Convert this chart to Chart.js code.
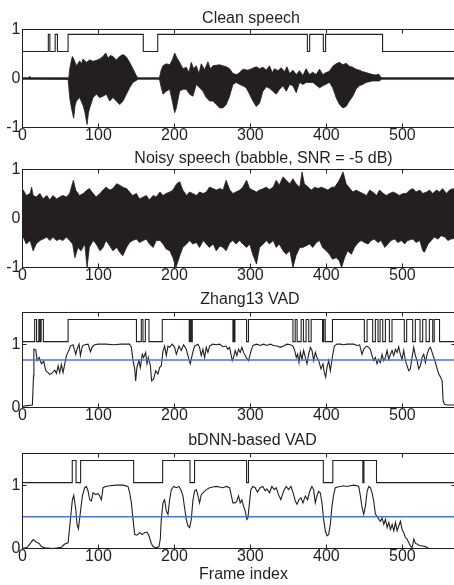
<!DOCTYPE html>
<html><head><meta charset="utf-8">
<script src="https://cdn.jsdelivr.net/npm/chart.js@4.4.1/dist/chart.umd.min.js"></script>
<style>
html,body{margin:0;padding:0;background:#fff;overflow:hidden;width:454px;height:585px;position:relative;}
canvas{position:absolute;left:0;top:0;}
</style></head><body>
<canvas id="c1" width="470" height="585"></canvas>
<canvas id="c2" width="470" height="585"></canvas>
<canvas id="c3" width="470" height="585"></canvas>
<canvas id="c4" width="470" height="585"></canvas>
<script>
// ---------- data ----------
const xTicks = [0, 100, 200, 300, 400, 500];
const xMax = 570;
const waveYTicks = [-1, 0, 1];
const vadYTicks = [0, 1];

const titles = ["Clean speech", "Noisy speech (babble, SNR = -5 dB)", "Zhang13 VAD", "bDNN-based VAD"];
const xLabel = "Frame index";

// clean speech envelope [frame, value]
const cleanUpper = [[0,0.015],[8,0.015],[9.5,0.05],[11,0.015],[61,0.015],[62.2,0.2],[64.4,0.38],[65.7,0.45],[67.4,0.40],[71,0.26],[75.3,0.36],[77.6,0.30],[79.7,0.40],[84.1,0.33],[88.5,0.38],[92.9,0.35],[97.3,0.37],[101.6,0.40],[106,0.45],[109.5,0.52],[112.6,0.42],[115.7,0.47],[119.1,0.45],[123.5,0.38],[127.9,0.45],[132.3,0.49],[136.7,0.44],[141,0.33],[145.4,0.2],[149.8,0.06],[152,0.015],[180,0.015],[180.5,0.03],[182.7,0.18],[184.9,0.26],[189.3,0.30],[193.7,0.28],[197.2,0.38],[200.3,0.52],[203.4,0.42],[206.8,0.33],[211.2,0.20],[215.6,0.23],[219.1,0.12],[222.2,0.33],[225.3,0.20],[228.8,0.26],[232.3,0.10],[235.3,0.30],[239.7,0.18],[244.1,0.34],[247.2,0.20],[250.7,0.26],[255.1,0.27],[259.5,0.28],[263.8,0.26],[268.2,0.24],[272.6,0.20],[277,0.10],[282.3,0.08],[285.8,0.12],[290.2,0.19],[296.7,0.17],[303.3,0.21],[307.7,0.24],[312.1,0.20],[316.5,0.23],[320.9,0.17],[325.2,0.26],[328.8,0.12],[331.8,0.20],[336.2,0.16],[340.6,0.22],[345,0.14],[348.1,0.24],[351.6,0.10],[356,0.17],[360.3,0.08],[364.7,0.16],[369.1,0.06],[373.3,0.20],[377.8,0.08],[382.1,0.13],[386.5,0.08],[391,0.19],[395.3,0.08],[399.7,0.12],[404.1,0.15],[408.4,0.25],[412.8,0.30],[417.2,0.33],[421.6,0.28],[426,0.31],[430.3,0.25],[434.8,0.23],[439.1,0.19],[443.5,0.17],[447.9,0.14],[452.3,0.12],[456.6,0.10],[461,0.08],[465.4,0.07],[468.9,0.09],[472,0.02],[473,0.015],[570,0.015]];
const cleanLower = [[0,-0.015],[60,-0.02],[62.2,-0.4],[64.4,-0.6],[67.4,-0.81],[69.2,-0.55],[71,-0.46],[75.3,-0.39],[79.7,-0.55],[81.9,-0.67],[85,-0.94],[86.8,-0.7],[88.5,-0.6],[92.9,-0.39],[97.3,-0.32],[101.6,-0.39],[106,-0.36],[110.4,-0.32],[114.8,-0.46],[119.1,-0.39],[123.5,-0.46],[127.9,-0.53],[130,-0.5],[132.3,-0.46],[136.7,-0.32],[141,-0.19],[145.4,-0.08],[149.8,-0.04],[152,-0.015],[180,-0.015],[180.5,-0.03],[182.7,-0.19],[184.9,-0.32],[189.3,-0.26],[193.7,-0.22],[197.2,-0.46],[200.3,-0.70],[202.5,-0.6],[206.8,-0.26],[211.2,-0.22],[215.6,-0.22],[220,-0.32],[224.4,-0.36],[228.8,-0.12],[233.1,-0.19],[237.5,-0.26],[241.9,-0.39],[246.3,-0.46],[250.7,-0.46],[255.1,-0.53],[259.5,-0.6],[263.8,-0.6],[268.2,-0.53],[272.6,-0.36],[277,-0.12],[281.4,-0.08],[285.8,-0.12],[290.2,-0.15],[294.5,-0.19],[298.9,-0.32],[303.3,-0.46],[307.7,-0.57],[312.1,-0.50],[316.5,-0.26],[320.9,-0.17],[325.2,-0.2],[329.6,-0.26],[334,-0.32],[338.4,-0.22],[342.8,-0.15],[347.2,-0.26],[351.6,-0.12],[356,-0.15],[360.3,-0.29],[364.7,-0.08],[369.1,-0.12],[373.5,-0.08],[382.3,-0.08],[391,-0.19],[395.3,-0.15],[404.1,-0.08],[408.4,-0.19],[412.8,-0.39],[417.2,-0.53],[421.6,-0.6],[426,-0.57],[430.3,-0.46],[434.8,-0.36],[439.1,-0.22],[443.5,-0.15],[447.9,-0.12],[452.3,-0.08],[461,-0.05],[469.9,-0.05],[472,-0.02],[473,-0.015],[570,-0.015]];
const cleanVadFrames = [0,34,36,43,46,60,159,178,375,378,396,399,474,570];
const cleanVadStates = [0,1,0,1,0,1,0,1,0,1,0,1,0,0];
const cleanVadLevels = [0.55, 0.9];

// noisy speech envelope [frame, value]
const noisyUpper = [[0,0.58],[1,0.58],[5,0.47],[10,0.51],[12,0.64],[14,0.47],[18,0.44],[23,0.51],[27,0.40],[32,0.47],[36,0.38],[40,0.47],[45,0.40],[49,0.44],[53,0.47],[58,0.44],[62,0.51],[67,0.78],[70,0.58],[75,0.47],[80,0.51],[85,0.58],[88,0.61],[93,0.51],[97,0.44],[102,0.51],[106,0.58],[110,0.64],[115,0.58],[119,0.61],[124,0.71],[128,0.68],[132,0.64],[137,0.61],[141,0.54],[145,0.47],[150,0.51],[154,0.40],[159,0.44],[163,0.47],[167,0.38],[172,0.47],[176,0.44],[181,0.54],[185,0.47],[189,0.51],[194,0.54],[198,0.58],[203,0.71],[207,0.75],[211,0.58],[216,0.47],[220,0.54],[224,0.51],[229,0.47],[233,0.54],[238,0.51],[242,0.54],[246,0.64],[251,0.61],[255,0.58],[260,0.61],[264,0.58],[268,0.78],[273,0.58],[277,0.51],[281,0.54],[286,0.58],[290,0.64],[295,0.78],[299,0.61],[303,0.58],[308,0.54],[312,0.58],[317,0.61],[321,0.64],[325,0.59],[330,0.64],[334,0.78],[338,0.68],[343,0.85],[347,0.78],[352,0.71],[356,0.81],[360,0.71],[365,0.64],[368,0.95],[371,0.71],[376,0.64],[380,0.58],[385,0.64],[389,0.61],[393,0.64],[398,0.61],[402,0.58],[407,0.64],[411,0.64],[417,0.78],[422,0.95],[426,0.71],[431,0.61],[435,0.54],[439,0.58],[444,0.54],[448,0.51],[453,0.47],[457,0.58],[461,0.54],[466,0.47],[470,0.58],[475,0.51],[479,0.47],[483,0.51],[488,0.54],[492,0.51],[496,0.47],[501,0.51],[505,0.51],[510,0.58],[514,0.61],[518,0.54],[523,0.58],[527,0.51],[532,0.54],[536,0.58],[540,0.51],[545,0.58],[549,0.54],[553,0.61],[558,0.51],[562,0.58],[567,0.61],[570,0.55]];
const noisyLower = [[0,-0.38],[1,-0.38],[5,-0.52],[10,-0.45],[14,-0.66],[18,-0.52],[23,-0.45],[27,-0.42],[32,-0.38],[36,-0.45],[40,-0.38],[45,-0.45],[49,-0.42],[53,-0.45],[58,-0.38],[62,-0.45],[66,-0.52],[69,-0.80],[73,-0.59],[77,-0.66],[82,-0.52],[85,-1.0],[88,-0.59],[93,-0.45],[97,-0.52],[102,-0.66],[106,-0.59],[110,-0.45],[115,-0.56],[119,-0.66],[124,-0.59],[128,-0.69],[132,-0.76],[137,-0.59],[141,-0.49],[145,-0.45],[150,-0.42],[154,-0.49],[159,-0.45],[163,-0.42],[167,-0.52],[172,-0.59],[176,-0.45],[181,-0.45],[185,-0.52],[189,-0.62],[194,-0.66],[198,-0.80],[202,-1.0],[207,-0.76],[211,-0.59],[216,-0.52],[220,-0.45],[224,-0.52],[229,-0.49],[233,-0.59],[238,-0.45],[242,-0.52],[246,-0.59],[251,-0.52],[255,-0.66],[260,-0.56],[264,-0.59],[268,-0.66],[273,-0.49],[277,-0.45],[281,-0.52],[286,-0.45],[290,-0.52],[295,-0.59],[299,-0.52],[303,-0.73],[308,-0.93],[312,-0.59],[317,-0.52],[321,-0.45],[325,-0.52],[330,-0.45],[334,-0.59],[338,-0.52],[343,-0.66],[347,-0.73],[352,-0.66],[356,-1.0],[360,-0.76],[365,-0.59],[369,-0.59],[373,-0.56],[378,-0.52],[382,-0.59],[387,-0.49],[391,-0.45],[395,-0.59],[400,-0.66],[404,-0.73],[408,-0.83],[413,-0.80],[417,-0.86],[420,-1.0],[424,-0.80],[428,-0.66],[433,-0.73],[437,-0.59],[442,-0.49],[446,-0.45],[450,-0.49],[455,-0.52],[459,-0.45],[463,-0.42],[468,-0.49],[472,-0.45],[477,-0.59],[481,-0.52],[485,-0.45],[490,-0.42],[494,-0.49],[499,-0.45],[503,-0.52],[507,-0.45],[514,-0.42],[518,-0.49],[523,-0.45],[527,-0.66],[529,-0.69],[534,-0.52],[538,-0.45],[542,-0.38],[547,-0.42],[551,-0.35],[556,-0.38],[560,-0.45],[564,-0.42],[570,-0.40]];

// Zhang13 VAD
const zhangProb = [[0,0.02],[6,0.03],[13,0.04],[14.5,0.5],[15,0.92],[17.5,0.91],[19.3,0.74],[21.9,0.79],[24.9,0.69],[28,0.73],[30.6,0.58],[33.7,0.55],[35.9,0.52],[39.4,0.55],[42.5,0.59],[44.7,0.54],[46.9,0.66],[49,0.55],[51.2,0.68],[53.4,0.55],[55.6,0.69],[57.8,0.82],[61.3,0.91],[63.1,0.97],[66.6,0.99],[70.1,0.84],[71.8,0.92],[74.5,1.0],[76.2,0.82],[78.8,0.97],[81.9,0.99],[86.3,1.0],[89.4,0.88],[92,0.96],[95.1,0.99],[99.5,1.0],[110,1.0],[120,0.99],[130,1.0],[141,1.0],[143.3,0.95],[145.5,0.74],[147.7,0.61],[149,0.42],[150.7,0.64],[153.3,0.74],[155.1,0.63],[157.7,0.84],[159.5,0.79],[162.1,0.87],[163.9,0.69],[165.6,0.79],[168.3,0.66],[170,0.42],[172.6,0.45],[175.3,0.58],[178.3,0.53],[180.5,0.63],[182.7,0.66],[184.9,0.89],[187.1,0.97],[189.3,0.82],[191.5,0.97],[193.7,0.95],[197.2,1.0],[200.3,0.95],[202.5,0.84],[206,0.97],[209,0.9],[212.1,0.99],[215.6,0.92],[219.1,0.76],[220.9,0.69],[223.5,0.84],[226.5,0.97],[230.9,1.0],[233.1,0.95],[235.3,0.82],[237.5,0.92],[239.7,0.79],[241.9,0.95],[244.1,0.87],[246.3,0.97],[250.6,1.0],[255,0.99],[259.4,1.0],[263.8,0.96],[268.2,0.97],[270.4,0.92],[272.6,0.95],[276.1,0.74],[277.8,0.79],[280,0.9],[282.2,0.82],[284.4,0.92],[286.6,0.87],[288.8,0.95],[291,0.87],[294.5,0.79],[297.6,0.74],[300.7,0.89],[303.4,0.98],[308.6,1.0],[313,0.98],[317.4,1.0],[321.8,0.98],[326.2,1.0],[330.6,0.98],[335,0.97],[339.4,0.95],[343.8,0.97],[348.2,1.0],[352.6,0.99],[356.1,0.97],[358.3,0.9],[360.4,0.79],[362.2,0.84],[364,0.71],[365.8,0.87],[367.9,0.76],[370.1,0.9],[372.3,0.79],[374.5,0.69],[376.7,0.84],[378.9,0.95],[381.1,0.9],[383.3,0.74],[385.5,0.87],[387.7,0.79],[389.9,0.74],[392.9,0.61],[395.6,0.69],[397.3,0.55],[399.1,0.48],[400.8,0.63],[403,0.74],[405.2,0.58],[407.8,0.79],[410.5,0.97],[414,1.0],[418.4,1.0],[422.8,0.99],[427.2,1.0],[431.6,1.0],[436,1.0],[440.3,0.98],[443.8,0.99],[446.9,0.84],[449.1,0.92],[451.3,0.95],[453.5,0.97],[455.7,0.95],[457.9,0.92],[460.1,0.82],[462.3,0.74],[464.5,0.79],[466.7,0.69],[468.9,0.76],[471.1,0.71],[473.3,0.84],[475.5,0.74],[477.7,0.79],[479.9,0.9],[482.1,0.76],[484.3,0.84],[486.5,0.9],[488.7,0.82],[490.9,0.92],[493.1,0.87],[495.2,0.96],[497.4,0.84],[499.6,0.76],[501.8,0.9],[504,0.74],[506.2,0.66],[508.4,0.58],[510.6,0.61],[512.8,0.79],[515,0.95],[517.2,0.82],[519.4,0.74],[521.6,0.61],[523.8,0.66],[526,0.79],[528.2,0.84],[530.4,0.71],[532.6,0.84],[534.8,0.92],[537,0.95],[539.2,0.87],[541.4,0.79],[543.6,0.71],[545.8,0.61],[548,0.53],[550.2,0.48],[552.4,0.42],[553.7,0.11],[555.5,0.05],[559,0.04],[570,0.04]];
const zhangVadFrames = [0,16,18.5,21.5,23,24.5,27.5,60,150,156.4,158.6,161.7,166.5,184,219.5,220.5,222,223.5,277,277.8,278.8,279.6,295,297.5,356,359,361.5,366.8,369.8,373.3,376.8,380,395,396.5,398.5,408,450,453.6,461,464.5,468,470.7,474.2,477.7,483,486.4,502.6,505.7,513.6,517.1,523.3,526.8,531.2,535.6,540,542,549,570];
const zhangVadStates = [0,1,0,1,0,1,0,1,0,1,0,1,0,1,0,1,0,1,0,1,0,1,0,1,0,1,0,1,0,1,0,1,0,1,0,1,0,1,0,1,0,1,0,1,0,1,0,1,0,1,0,1,0,1,0,1,0,0];
const zhangThreshold = 0.75;

// bDNN VAD
const bdnnProb = [[0,0.0],[6.1,0.02],[9.6,0.07],[14,0.14],[18.4,0.1],[21.9,0.08],[24.9,0.03],[29.3,0.01],[40.3,0.0],[51.2,0.02],[55.6,0.07],[60,0.09],[63.1,0.46],[65.7,0.77],[67.5,0.84],[70.1,0.62],[71.8,0.38],[73.6,0.31],[76.2,0.57],[78.8,0.83],[81.9,0.96],[84.1,0.98],[86.3,0.91],[88.5,0.77],[90.7,0.75],[92.9,0.88],[96.4,0.85],[99.5,0.87],[101.6,0.83],[103.8,0.77],[106,0.96],[109.5,0.98],[114.8,0.99],[123.5,1.0],[132.3,1.0],[138.9,0.98],[141.1,0.88],[143.3,0.72],[145.5,0.46],[147.7,0.22],[150.7,0.21],[154.2,0.25],[157.7,0.22],[160.8,0.25],[163.9,0.26],[166.5,0.2],[169.6,0.08],[171.8,0.03],[176.1,0.01],[179.7,0.03],[181.4,0.15],[182.7,0.46],[184.9,0.72],[187.1,0.77],[189.3,0.59],[191.5,0.54],[193.7,0.77],[195.9,0.93],[199,0.98],[202.5,0.96],[206,0.98],[209.1,0.91],[211.2,0.83],[213.4,0.64],[215.6,0.46],[217.8,0.36],[220,0.33],[222.2,0.46],[224.4,0.77],[226.6,0.91],[228.8,0.93],[231,0.83],[233.1,0.72],[235.3,0.85],[237.5,0.88],[241.9,0.93],[246.3,0.96],[250.6,0.97],[255,0.98],[259.4,0.97],[263.8,0.96],[268.2,0.98],[272.6,0.96],[277,0.72],[280,0.72],[282.2,0.75],[284.4,0.83],[286.6,0.72],[288.8,0.77],[291,0.67],[293.2,0.59],[295.4,0.46],[296.7,0.48],[298.8,0.72],[300.6,0.93],[303.2,0.98],[306.3,0.96],[309.3,0.89],[312.9,0.96],[316.4,0.98],[319.5,0.91],[321.7,0.94],[325.2,0.88],[328.3,0.98],[331.4,0.93],[334,0.96],[337.1,0.85],[340.1,0.77],[343.7,0.91],[347.2,0.98],[350.3,0.93],[353.4,0.98],[356.9,0.85],[359.1,0.75],[361.3,0.7],[363.9,0.77],[366.6,0.8],[369.2,0.72],[372.3,0.83],[375.3,0.77],[378,0.9],[381,0.98],[383.2,0.93],[385.4,0.72],[387.6,0.83],[389.8,0.9],[392,0.88],[394.2,0.72],[396.4,0.46],[398.6,0.28],[400.8,0.2],[403,0.22],[405.2,0.38],[407.4,0.67],[409.6,0.85],[411.8,0.96],[414.9,0.97],[418.4,0.98],[422.8,0.99],[427.2,0.98],[431.6,0.99],[436,1.0],[440.4,0.99],[442.6,0.98],[444.8,0.83],[447,0.65],[449.2,0.54],[451.4,0.67],[453.6,0.9],[455.8,0.98],[458,0.96],[460.2,0.88],[462.4,0.75],[464.6,0.54],[466.8,0.51],[469,0.46],[471.2,0.43],[473.4,0.48],[475.6,0.38],[477.8,0.46],[480,0.33],[482.2,0.41],[484.4,0.3],[486.6,0.38],[488.8,0.28],[491,0.41],[493.2,0.28],[495.4,0.36],[497.5,0.43],[499.7,0.3],[501.9,0.25],[504.1,0.17],[506.3,0.15],[508.5,0.09],[510.7,0.04],[512.9,0.01],[515.1,0.15],[517.3,0.08],[519.5,0.07],[521.7,0.05],[526.1,0.04],[530.5,0.03],[534.9,0.0],[570,0.0]];
const bdnnVadFrames = [0,65.5,70.5,76.5,146.3,184.5,220.5,226.5,295,297.5,396,408.5,448,449.5,466,570];
const bdnnVadStates = [0,1,0,1,0,1,0,1,0,1,0,1,0,1,0,0];
const bdnnThreshold = 0.5;
const vadLevels = [1.04, 1.39];

// ---------- styling / layout ----------
const INK = '#231f20';
const BLUE = '#5373c4';
const FAMILY = '"Liberation Sans", Arial, Helvetica, sans-serif';
const CW = 470;               // canvas width (clipped by the 454px window)
const PLOT_LEFT = 22.5, PLOT_RIGHT = 455.5;

const toXY = arr => arr.map(p => ({x: p[0], y: p[1]}));
const stepXY = (frames, states, levels) => frames.map((f, i) => ({x: f, y: levels[states[i]]}));
const hline = (v) => [{x: 0, y: v}, {x: xMax, y: v}];

const framePlugin = {
  id: 'frame',
  afterDatasetsDraw(chart, args, opts) {
    const {ctx, chartArea: a, scales} = chart;
    ctx.save();
    ctx.strokeStyle = INK; ctx.lineWidth = 1;
    ctx.strokeRect(a.left, a.top, a.right - a.left, a.bottom - a.top);
    const L = 4;
    ctx.beginPath();
    scales.x.ticks.forEach(t => {
      const x = Math.round(scales.x.getPixelForValue(t.value) - 0.5) + 0.5;
      ctx.moveTo(x, a.top); ctx.lineTo(x, a.top + L);
      ctx.moveTo(x, a.bottom); ctx.lineTo(x, a.bottom - L);
    });
    scales.y.ticks.forEach(t => {
      const y = Math.round(scales.y.getPixelForValue(t.value) - 0.5) + 0.5;
      ctx.moveTo(a.left, y); ctx.lineTo(a.left + L, y);
      ctx.moveTo(a.right, y); ctx.lineTo(a.right - L, y);
    });
    ctx.stroke();
    ctx.fillStyle = INK;
    ctx.font = '16px ' + FAMILY;
    ctx.textAlign = 'center';
    ctx.textBaseline = 'alphabetic';
    (opts.labels || []).forEach(l => ctx.fillText(l.text, l.x, l.y));
    ctx.restore();
  }
};

function makeChart(id, o) {
  return new Chart(document.getElementById(id), {
    type: 'line',
    data: {datasets: o.datasets},
    plugins: [framePlugin],
    options: {
      responsive: false, animation: false, devicePixelRatio: 1,
      layout: {padding: {top: o.top, left: 0, right: CW - PLOT_RIGHT, bottom: 0}},
      elements: {point: {radius: 0}, line: {tension: 0}},
      plugins: {legend: {display: false}, tooltip: {enabled: false}, frame: {labels: o.labels}},
      scales: {
        x: {
          type: 'linear', min: 0, max: xMax,
          afterBuildTicks: s => { s.ticks = xTicks.map(v => ({value: v})); },
          afterFit: s => { s.height = 585 - o.bottom; },
          grid: {display: false, drawTicks: false}, border: {display: false},
          ticks: {color: INK, font: {family: FAMILY, size: 16}, padding: -2, maxRotation: 0, autoSkip: false,
                  callback: v => String(v)}
        },
        y: {
          type: 'linear', min: o.yMin, max: o.yMax,
          afterBuildTicks: s => { s.ticks = o.yTicks.map(v => ({value: v})); },
          afterFit: s => { s.width = PLOT_LEFT; },
          grid: {display: false, drawTicks: false}, border: {display: false},
          ticks: {color: INK, font: {family: FAMILY, size: 16}, padding: 2, autoSkip: false,
                  callback: v => String(v)}
        }
      }
    }
  });
}

const lineDS = (data, extra) => Object.assign({data, borderColor: INK, borderWidth: 1.1, pointRadius: 0, fill: false}, extra || {});

// 1. clean speech
makeChart('c1', {
  top: 29.5, bottom: 127.5, yMin: -1, yMax: 1, yTicks: waveYTicks,
  labels: [{text: titles[0], x: 251, y: 22.5}],
  datasets: [
    lineDS(stepXY(cleanVadFrames, cleanVadStates, cleanVadLevels), {stepped: 'before'}),
    lineDS(toXY(cleanUpper), {fill: '+1', backgroundColor: INK, borderWidth: 0.8}),
    lineDS(toXY(cleanLower), {borderWidth: 0.8})
  ]
});

// 2. noisy speech
makeChart('c2', {
  top: 169.5, bottom: 267.5, yMin: -1, yMax: 1, yTicks: waveYTicks,
  labels: [{text: titles[1], x: 263.5, y: 162.5}],
  datasets: [
    lineDS(toXY(noisyUpper), {fill: '+1', backgroundColor: INK, borderWidth: 0.8}),
    lineDS(toXY(noisyLower), {borderWidth: 0.8})
  ]
});

// 3. Zhang13 VAD
makeChart('c3', {
  top: 312.5, bottom: 407.5, yMin: 0, yMax: 1.5, yTicks: vadYTicks,
  labels: [{text: titles[2], x: 250, y: 304}],
  datasets: [
    lineDS(hline(zhangThreshold), {borderColor: BLUE, borderWidth: 1.5}),
    lineDS(stepXY(zhangVadFrames, zhangVadStates, vadLevels), {stepped: 'before'}),
    lineDS(toXY(zhangProb))
  ]
});

// 4. bDNN VAD
makeChart('c4', {
  top: 453.5, bottom: 548.5, yMin: 0, yMax: 1.5, yTicks: vadYTicks,
  labels: [{text: titles[3], x: 252.5, y: 444.5}, {text: xLabel, x: 243.5, y: 578.5}],
  datasets: [
    lineDS(hline(bdnnThreshold), {borderColor: BLUE, borderWidth: 1.5}),
    lineDS(stepXY(bdnnVadFrames, bdnnVadStates, vadLevels), {stepped: 'before'}),
    lineDS(toXY(bdnnProb))
  ]
});
</script>
</body></html>
